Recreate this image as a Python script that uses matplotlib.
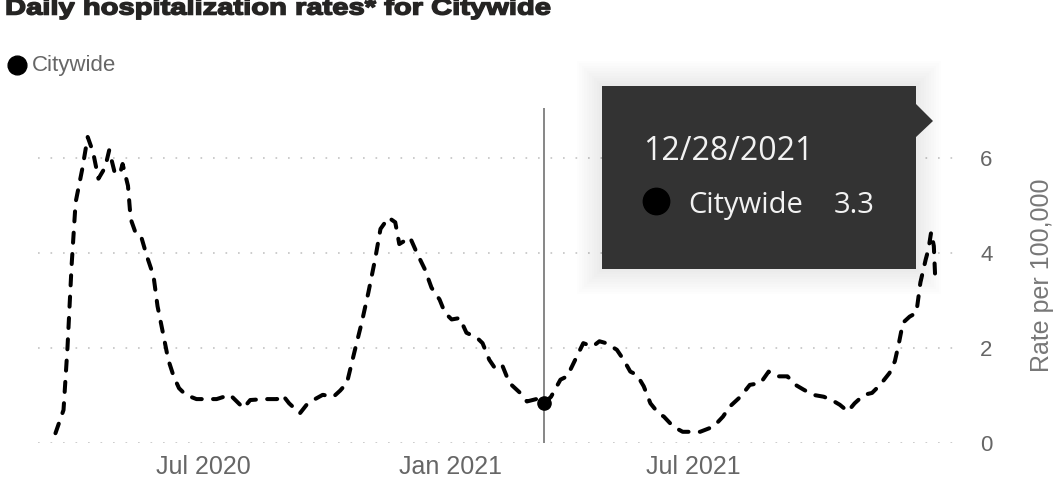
import matplotlib
matplotlib.use("Agg")
import matplotlib.pyplot as plt
from matplotlib.patches import Rectangle, Polygon, PathPatch
from matplotlib.lines import Line2D
from matplotlib.textpath import TextPath
from matplotlib.font_manager import FontProperties
from matplotlib.transforms import Affine2D
import pandas as pd

# data (days since first point, rate per 100,000)
start = pd.Timestamp("2020-03-13")
day_offsets = [0, 6, 9, 12, 15, 20, 24, 28, 32, 37, 40, 44, 48, 50, 54, 56, 60, 64,
               68, 73, 76, 80, 84, 88, 92, 97, 105, 120, 130, 135, 140, 145, 155,
               165, 169, 174, 182, 187, 192, 199, 207, 212, 217, 223, 228, 233, 238,
               242, 248, 253, 256, 264, 269, 275, 280, 286, 290, 295, 301, 306, 314,
               318, 323, 328, 333, 338, 346, 351, 358, 364, 369, 376, 381, 387, 393,
               400, 405, 410, 418, 423, 428, 433, 438, 443, 449, 453, 460, 467, 480,
               490, 497, 502, 510, 517, 525, 531, 537, 545, 551, 557, 564, 572, 578,
               584, 590, 595, 602, 608, 614, 621, 625, 628, 631, 636, 641, 644, 648,
               650, 652, 654, 655]
rates = [0.20, 0.69, 2.03, 3.73, 5.07, 5.78, 6.45, 6.13, 5.57, 5.81, 6.17, 5.71, 5.67,
         5.88, 5.42, 4.72, 4.40, 4.33, 3.94, 3.52, 2.88, 2.32, 1.75, 1.40, 1.15, 1.01,
         0.92, 0.92, 1.01, 0.87, 0.73, 0.90, 0.92, 0.92, 1.01, 0.83, 0.62, 0.80, 0.90,
         1.01, 0.97, 1.10, 1.26, 1.96, 2.53, 3.17, 3.87, 4.51, 4.75, 4.65, 4.19, 4.33,
         4.01, 3.66, 3.27, 3.02, 2.74, 2.60, 2.63, 2.32, 2.21, 2.10, 1.75, 1.54, 1.61,
         1.26, 1.05, 0.87, 0.92, 0.83, 0.97, 1.33, 1.40, 1.75, 2.10, 2.03, 2.14, 2.10,
         1.96, 1.75, 1.50, 1.43, 1.19, 0.83, 0.62, 0.55, 0.34, 0.23, 0.23, 0.34, 0.55,
         0.76, 0.97, 1.22, 1.26, 1.50, 1.40, 1.40, 1.22, 1.12, 1.01, 0.97, 0.90, 0.80,
         0.66, 0.83, 1.01, 1.05, 1.22, 1.47, 1.72, 2.10, 2.53, 2.66, 2.74, 3.38, 3.87,
         4.08, 4.44, 4.15, 3.50]
dates = start + pd.to_timedelta(day_offsets, unit="D")

hover_index = day_offsets.index(364)
x_ticks = pd.to_datetime(["2020-07-01", "2021-01-01", "2021-07-01"])
x_tick_labels = ["Jul 2020", "Jan 2021", "Jul 2021"]
y_ticks = [0, 2, 4, 6]

title = "Daily hospitalization rates* for Citywide"
series_name = "Citywide"
tooltip_date = "12/28/2021"
tooltip_value = "3.3"

plt.rcParams["font.family"] = ["Liberation Sans", "DejaVu Sans"]

W, H = 1056, 488
fig = plt.figure(figsize=(W / 100, H / 100), dpi=100)


def fx(x):
    return x / W


def fy(y):
    return 1 - y / H


ax = fig.add_axes([fx(38), (H - 442.7) / H, 920 / W, 7.06 * 47.4 / H])

ax.plot(dates, rates, color="black", lw=2.9, ls=(0, (2.5, 2.8)),
        dash_capstyle="round", zorder=3)
ax.axvline(dates[hover_index], color="#666666", lw=1.1, zorder=2)
ax.plot(dates[hover_index], rates[hover_index], "o", color="black", ms=9.5, zorder=4)

ax.set_xlim(start - pd.Timedelta(days=13), start + pd.Timedelta(days=672))
ax.set_ylim(0, 7.06)
ax.set_xticks(x_ticks)
ax.set_xticklabels(x_tick_labels)
ax.set_yticks(y_ticks)
ax.yaxis.tick_right()
ax.yaxis.set_label_position("right")
ax.tick_params(axis="y", length=0, pad=16, labelsize=16, labelcolor="#666666")
ax.tick_params(axis="x", length=0, pad=9, labelsize=18, labelcolor="#666666")
ax.grid(axis="y", color="#c4c4c4", lw=1.2, ls=(0, (1, 6.5)))
ax.grid(axis="x", visible=False)
for s in ax.spines.values():
    s.set_visible(False)
ax.set_ylabel("Rate per 100,000", fontsize=18, color="#777777")
ax.yaxis.set_label_coords(1.078, 0.5)

# title: heavy wide sans, drawn as a stretched text path
tp = TextPath((0, 0), title, size=1,
              prop=FontProperties(family="Liberation Sans", weight="bold"))
ext = tp.get_extents()
em = 22.5
sx = 543 / (ext.width * em)
tr = (Affine2D().translate(-ext.x0, 0).scale(em * sx / W, em / H)
      .translate(fx(7), fy(14.5)) + fig.transFigure)
fig.add_artist(PathPatch(tp, transform=tr, facecolor="#252423",
                         edgecolor="#252423", lw=1.1))

# legend
fig.add_artist(Line2D([fx(17)], [fy(64.5)], marker="o", ms=13.5, color="black",
                      transform=fig.transFigure))
fig.text(fx(32), fy(70.7), series_name, fontsize=16, color="#666666", va="baseline")

# tooltip box with soft shadow
bx0, by0, bx1, by1 = 601.7, 85.7, 916, 269.3
for i in range(10, 0, -1):
    g = i * 2.5
    fig.add_artist(Rectangle((fx(bx0 - g), fy(by1 + g)), (bx1 - bx0 + 2 * g) / W,
                             (by1 - by0 + 2 * g) / H, transform=fig.transFigure,
                             facecolor="black", edgecolor="none", alpha=0.007, zorder=5))
fig.add_artist(Rectangle((fx(bx0), fy(by1)), (bx1 - bx0) / W, (by1 - by0) / H,
                         transform=fig.transFigure, facecolor="#333333",
                         edgecolor="none", zorder=6))
fig.add_artist(Polygon([(fx(bx1 - 1), fy(103)), (fx(933), fy(121)), (fx(bx1 - 1), fy(138))],
                       closed=True, transform=fig.transFigure, facecolor="#333333",
                       edgecolor="none", zorder=6))
tip_font = ["Open Sans", "DejaVu Sans"]
fig.text(fx(643), fy(160), tooltip_date, fontsize=23, color="#f2f2f2",
         family=tip_font, va="baseline", zorder=7)
fig.add_artist(Line2D([fx(656)], [fy(201)], marker="o", ms=19, color="black",
                      transform=fig.transFigure, zorder=7))
fig.text(fx(688), fy(213), series_name, fontsize=21, color="#f2f2f2",
         family=tip_font, va="baseline", zorder=7)
fig.text(fx(834), fy(213), tooltip_value, fontsize=21, color="#f2f2f2",
         family=tip_font, va="baseline", zorder=7)

fig.savefig("out.png", dpi=100)
